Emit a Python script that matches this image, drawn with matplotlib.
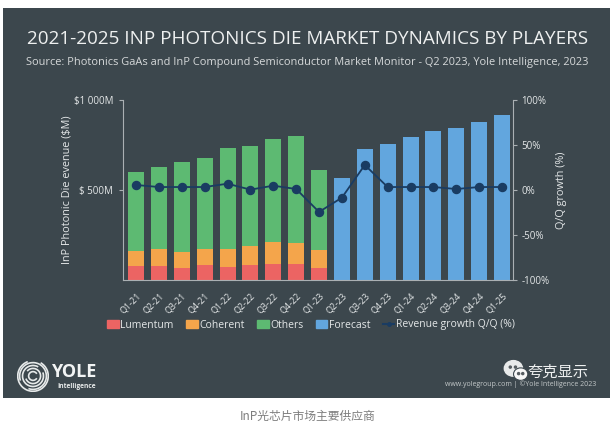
import matplotlib.pyplot as plt
import numpy as np
from matplotlib.patches import Rectangle, Arc, Ellipse, Patch
from matplotlib.lines import Line2D

plt.rcParams['font.family'] = ['Open Sans', 'Noto Sans CJK SC', 'DejaVu Sans']

# data
quarters = ["Q1-21", "Q2-21", "Q3-21", "Q4-21", "Q1-22", "Q2-22", "Q3-22", "Q4-22", "Q1-23",
            "Q2-23", "Q3-23", "Q4-23", "Q1-24", "Q2-24", "Q3-24", "Q4-24", "Q1-25"]
lumentum = [76, 78, 67, 81, 74, 85, 91, 89, 68]
coherent = [87, 94, 90, 93, 100, 104, 120, 118, 101]
others = [439, 456, 497, 504, 557, 553, 574, 593, 442]
forecast = [565, 728, 757, 794, 828, 844, 878, 915]
growth = [5.6, 3.3, 3.3, 3.3, 7.0, 0.4, 4.8, 1.1, -24.4, -8.5, 27.8, 3.3, 3.3, 3.3, 1.1, 3.3, 3.3]

left_ticks = [500, 1000]
left_labels = ["$ 500M", "$1 000M"]
right_ticks = [-100, -50, 0, 50, 100]
right_labels = ["-100%", "-50%", "0%", "50%", "100%"]

bg = "#3c474d"
txt = "#e4e7e8"
axis_col = "#aab0b3"
c_lum = "#ec6463"
c_coh = "#f4a54b"
c_oth = "#5dba72"
c_for = "#62a6de"
c_line = "#1a3c62"

W, H = 615, 432
fig = plt.figure(figsize=(W / 100, H / 100), dpi=100)
fig.patch.set_facecolor("white")
fig.patches.append(Rectangle((3 / W, 1 - 398 / H), 607 / W, 390 / H, transform=fig.transFigure,
                             facecolor=bg, edgecolor="none", zorder=-10))

ax = fig.add_axes([123 / W, 1 - 280 / H, 390 / W, 180 / H])
ax.set_facecolor("none")

n_act = len(lumentum)
x = np.arange(len(quarters))
xa = x[:n_act]
xf = x[n_act:]
wd = 0.7
ax.bar(xa, lumentum, wd, color=c_lum)
ax.bar(xa, coherent, wd, bottom=lumentum, color=c_coh)
ax.bar(xa, others, wd, bottom=np.array(lumentum) + np.array(coherent), color=c_oth)
ax.bar(xf, forecast, wd, color=c_for)

ax.set_xlim(-0.57, len(quarters) - 1 + 0.48)
ax.set_ylim(0, 1000)
ax.set_yticks(left_ticks)
ax.set_yticklabels(left_labels)
ax.set_xticks(x)
ax.set_xticklabels(quarters, rotation=45, ha="right", rotation_mode="anchor")
ax.tick_params(axis="x", length=0, pad=8, labelsize=6.5, colors=txt)
ax.tick_params(axis="y", length=3, width=0.8, color=axis_col, labelsize=7, labelcolor=txt, pad=4)
ax.spines["top"].set_visible(False)
ax.spines["right"].set_visible(False)
ax.spines["left"].set_color(axis_col)
ax.spines["bottom"].set_color(axis_col)
ax.set_ylabel("InP Photonic Die evenue ($M)", color=txt, fontsize=7.8, labelpad=1)

ax2 = ax.twinx()
ax2.plot(x, growth, color=c_line, lw=1.3, marker="o", ms=5.8)
ax2.set_ylim(-100, 100)
ax2.set_yticks(right_ticks)
ax2.set_yticklabels(right_labels)
ax2.tick_params(axis="y", length=3, width=0.8, color=axis_col, labelsize=7, labelcolor=txt, pad=3)
ax2.spines["top"].set_visible(False)
ax2.spines["left"].set_visible(False)
ax2.spines["bottom"].set_visible(False)
ax2.spines["right"].set_color(axis_col)
ax2.set_ylabel("Q/Q growth (%)", color=txt, fontsize=7.8, rotation=90, labelpad=5)

# legend
handles = [Patch(color=c_lum), Patch(color=c_coh), Patch(color=c_oth), Patch(color=c_for),
           Line2D([], [], color=c_line, lw=1.5, marker="o", ms=2.5)]
labels = ["Lumentum", "Coherent", "Others", "Forecast", "Revenue growth Q/Q (%)"]
fig.legend(handles, labels, loc="center", bbox_to_anchor=(311 / W, 1 - 325 / H), ncol=5,
           frameon=False, fontsize=7.5, labelcolor=txt, handlelength=1.1, handleheight=0.7,
           handletextpad=0.15, columnspacing=1.2)

# titles
fig.text(0.5, 1 - 39 / H, "2021-2025 INP PHOTONICS DIE MARKET DYNAMICS BY PLAYERS",
         ha="center", va="center", color="#eef0f0", fontsize=13.6)
fig.text(0.5, 1 - 62 / H,
         "Source: Photonics GaAs and InP Compound Semiconductor Market Monitor - Q2 2023, Yole Intelligence, 2023",
         ha="center", va="center", color="#d6d9da", fontsize=7.9)

# Yole logo
lax = fig.add_axes([(33 - 16) / W, 1 - (376 + 16) / H, 32 / W, 32 / H])
lax.set_xlim(-1.1, 1.1)
lax.set_ylim(-1.1, 1.1)
lax.set_aspect("equal")
lax.axis("off")
for r, t1, t2 in [(0.3, 30, 330), (0.52, 200, 140), (0.72, 60, 20), (0.92, 250, 200), (1.05, 110, 60)]:
    lax.add_patch(Arc((0, 0), 2 * r, 2 * r, theta1=t1, theta2=t2, color="#e6e9e9", lw=1.2))
fig.text(51 / W, 1 - 372 / H, "YOLE", color="#f2f4f4", fontsize=13, fontweight="bold",
         ha="left", va="center")
fig.text(57 / W, 1 - 386 / H, "Intelligence", color="#e6e9e9", fontsize=4.8, fontweight="bold",
         ha="left", va="center")

# watermark
wax = fig.add_axes([503 / W, 1 - 384 / H, 26 / W, 26 / H])
wax.set_xlim(0, 1)
wax.set_ylim(0, 1)
wax.axis("off")
wax.add_patch(Ellipse((0.4, 0.6), 0.7, 0.6, color="#e8eaea"))
wax.add_patch(Ellipse((0.68, 0.38), 0.55, 0.48, color="#f7f7f7", ec=bg, lw=0.8))
for px, py in [(0.28, 0.65), (0.48, 0.65), (0.6, 0.4), (0.76, 0.4)]:
    wax.add_patch(Ellipse((px, py), 0.08, 0.08, color="#555c60"))
fig.text(527 / W, 1 - 372 / H, "夸克显示", color="#eef0f0", fontsize=11,
         family=["Noto Sans CJK SC", "DejaVu Sans"], ha="left", va="center")
fig.text(596 / W, 1 - 384 / H, "www.yolegroup.com | ©Yole Intelligence 2023", color="#c3c8c9",
         fontsize=5, ha="right", va="center")

# caption under panel
fig.text(0.5, 1 - 416 / H, "InP光芯片市场主要供应商", color="#7d7d7d", fontsize=8.5,
         family=["Noto Sans CJK SC", "DejaVu Sans"], ha="center", va="center")

fig.savefig("out.png", dpi=100, facecolor=fig.get_facecolor())
